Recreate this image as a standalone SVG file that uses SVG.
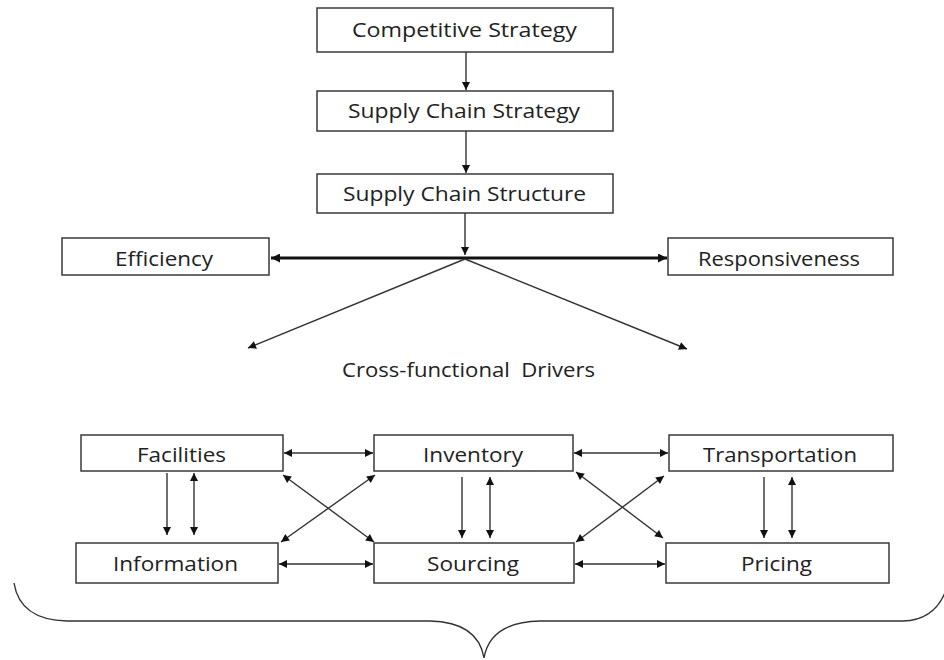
<svg xmlns="http://www.w3.org/2000/svg" width="944" height="660" viewBox="0 0 944 660">
<style>
.box{fill:#fff;stroke:#3a3a3a;stroke-width:1.5}
.lbl{font-family:"Open Sans","Noto Sans","Liberation Sans",sans-serif;font-size:20px;fill:#222}
.ln{stroke:#333;stroke-width:1.4;fill:none}
.thick{stroke:#111;stroke-width:3;fill:none}
.brace{stroke:#333;stroke-width:1.4;fill:none}
</style>
<defs>
<marker id="ah" viewBox="0 0 10 10" refX="10" refY="5" markerWidth="9" markerHeight="8" markerUnits="userSpaceOnUse" orient="auto-start-reverse">
<path d="M0,0 L10,5 L0,10 z" fill="#111"/>
</marker>
<marker id="ahT" viewBox="0 0 10 10" refX="10" refY="5" markerWidth="11" markerHeight="9" markerUnits="userSpaceOnUse" orient="auto-start-reverse">
<path d="M0,0 L10,5 L0,10 z" fill="#111"/>
</marker>
</defs>
<rect width="944" height="660" fill="#fff"/>

<g id="competitive-strategy"><rect class="box" x="317" y="8" width="296" height="44"/><text class="lbl" x="352" y="37" textLength="225" lengthAdjust="spacingAndGlyphs">Competitive Strategy</text></g>
<g id="supply-chain-strategy"><rect class="box" x="317" y="91" width="296" height="40"/><text class="lbl" x="348" y="118" textLength="232" lengthAdjust="spacingAndGlyphs">Supply Chain Strategy</text></g>
<g id="supply-chain-structure"><rect class="box" x="317" y="174" width="296" height="39"/><text class="lbl" x="343" y="201" textLength="243" lengthAdjust="spacingAndGlyphs">Supply Chain Structure</text></g>
<g id="efficiency"><rect class="box" x="62" y="238" width="207" height="37"/><text class="lbl" x="115" y="266" textLength="98" lengthAdjust="spacingAndGlyphs">Efficiency</text></g>
<g id="responsiveness"><rect class="box" x="668" y="238" width="225" height="37"/><text class="lbl" x="698" y="266" textLength="162" lengthAdjust="spacingAndGlyphs">Responsiveness</text></g>
<g id="cross-functional-drivers"><text class="lbl" x="342" y="377" textLength="253" lengthAdjust="spacingAndGlyphs" xml:space="preserve">Cross-functional  Drivers</text></g>
<g id="facilities"><rect class="box" x="81" y="435" width="202" height="36"/><text class="lbl" x="137" y="462" textLength="89" lengthAdjust="spacingAndGlyphs">Facilities</text></g>
<g id="inventory"><rect class="box" x="374" y="435" width="199" height="36"/><text class="lbl" x="423" y="462" textLength="100" lengthAdjust="spacingAndGlyphs">Inventory</text></g>
<g id="transportation"><rect class="box" x="669" y="435" width="224" height="36"/><text class="lbl" x="703" y="462" textLength="154" lengthAdjust="spacingAndGlyphs">Transportation</text></g>
<g id="information"><rect class="box" x="76" y="543" width="202" height="40"/><text class="lbl" x="113" y="571" textLength="125" lengthAdjust="spacingAndGlyphs">Information</text></g>
<g id="sourcing"><rect class="box" x="374" y="543" width="200" height="40"/><text class="lbl" x="427" y="571" textLength="92" lengthAdjust="spacingAndGlyphs">Sourcing</text></g>
<g id="pricing"><rect class="box" x="666" y="543" width="223" height="40"/><text class="lbl" x="741" y="571" textLength="71" lengthAdjust="spacingAndGlyphs">Pricing</text></g>

<g id="connectors">
<line class="ln" x1="466" y1="52" x2="466" y2="90" marker-end="url(#ah)"/>
<line class="ln" x1="466" y1="131" x2="466" y2="173" marker-end="url(#ah)"/>
<line class="ln" x1="465" y1="213" x2="465" y2="255" marker-end="url(#ah)"/>
<line class="thick" x1="271" y1="258" x2="667" y2="258" marker-start="url(#ahT)" marker-end="url(#ahT)"/>
<line class="ln" x1="465" y1="259" x2="248" y2="348" marker-end="url(#ah)"/>
<line class="ln" x1="465" y1="259" x2="687" y2="349" marker-end="url(#ah)"/>

<line class="ln" x1="284" y1="453" x2="373" y2="453" marker-start="url(#ah)" marker-end="url(#ah)"/>
<line class="ln" x1="574" y1="453" x2="668" y2="453" marker-start="url(#ah)" marker-end="url(#ah)"/>
<line class="ln" x1="279" y1="564" x2="373" y2="564" marker-start="url(#ah)" marker-end="url(#ah)"/>
<line class="ln" x1="575" y1="564" x2="665" y2="564" marker-start="url(#ah)" marker-end="url(#ah)"/>

<line class="ln" x1="167" y1="473" x2="167" y2="535" marker-end="url(#ah)"/>
<line class="ln" x1="194" y1="473" x2="194" y2="535" marker-start="url(#ah)" marker-end="url(#ah)"/>
<line class="ln" x1="462" y1="477" x2="462" y2="538" marker-end="url(#ah)"/>
<line class="ln" x1="490" y1="477" x2="490" y2="538" marker-start="url(#ah)" marker-end="url(#ah)"/>
<line class="ln" x1="764" y1="477" x2="764" y2="538" marker-end="url(#ah)"/>
<line class="ln" x1="792" y1="477" x2="792" y2="538" marker-start="url(#ah)" marker-end="url(#ah)"/>

<line class="ln" x1="283" y1="475" x2="374" y2="542" marker-start="url(#ah)" marker-end="url(#ah)"/>
<line class="ln" x1="375" y1="475" x2="281" y2="542" marker-start="url(#ah)" marker-end="url(#ah)"/>
<line class="ln" x1="576" y1="472" x2="663" y2="538" marker-start="url(#ah)" marker-end="url(#ah)"/>
<line class="ln" x1="664" y1="476" x2="576" y2="542" marker-start="url(#ah)" marker-end="url(#ah)"/>

<path class="brace" d="M14,583 Q20,620 67,621 L430,621 Q478,622 484,658 Q490,622 540,621 L903,621 Q935,620 946,590"/>
</g>
</svg>
